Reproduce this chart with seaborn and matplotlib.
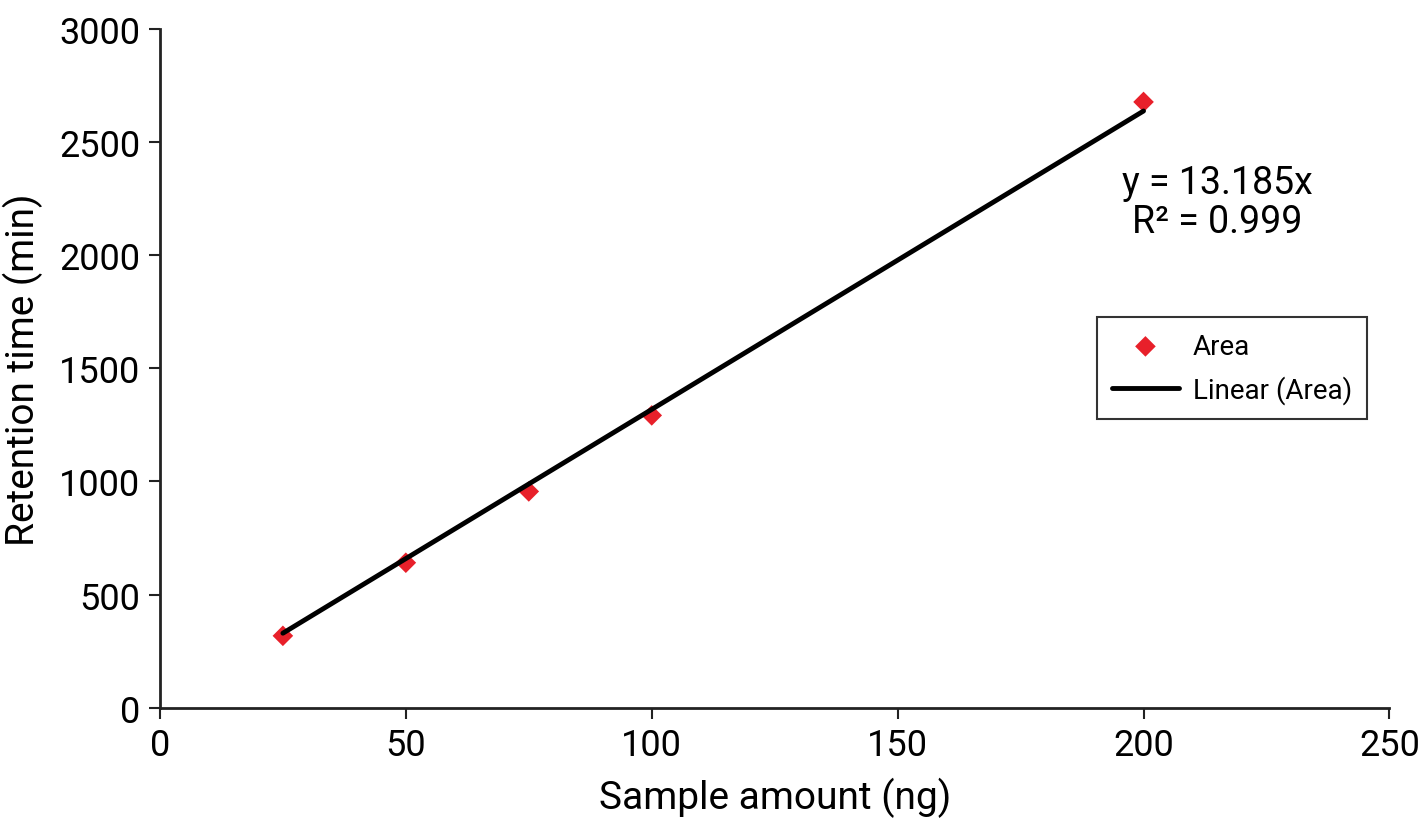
import matplotlib
matplotlib.use("Agg")
import matplotlib.pyplot as plt
import seaborn as sns
import numpy as np
import pandas as pd

# data
sample_amount = [25, 50, 75, 100, 200]
area = [318, 641, 956, 1292, 2677]
slope = 13.185
fit_x = [25, 200]

sns.set_style("white")
plt.rcParams['font.family'] = ['Liberation Sans Narrow', 'Roboto', 'DejaVu Sans']
plt.rcParams['text.color'] = 'black'
plt.rcParams['xtick.color'] = 'black'
plt.rcParams['ytick.color'] = 'black'
plt.rcParams['axes.labelcolor'] = 'black'

df = pd.DataFrame({'amount': sample_amount, 'area': area})
fit = pd.DataFrame({'amount': fit_x, 'area': [slope * v for v in fit_x]})

fig = plt.figure(figsize=(14.28, 8.29), dpi=100)
ax = fig.add_axes([0.112, 0.145, 0.861, 0.819])

sns.lineplot(data=fit, x='amount', y='area', color='black', linewidth=3.5,
             label='Linear (Area)', ax=ax, zorder=3)
sns.scatterplot(data=df, x='amount', y='area', marker='D', color='#e8202a',
                s=110, edgecolor='none', label='Area', ax=ax, zorder=2)

ax.set_xlim(0, 250)
ax.set_ylim(0, 3000)
ax.set_xticks(np.arange(0, 251, 50))
ax.set_yticks(np.arange(0, 3001, 500))
ax.tick_params(axis='both', labelsize=26, direction='out', length=8, width=1.5,
               color='#222222', pad=6, left=True, bottom=True)
sns.despine(ax=ax)
for sp in ['left', 'bottom']:
    ax.spines[sp].set_linewidth(2)
    ax.spines[sp].set_color('#222222')

ax.set_xlabel('Sample amount (ng)', fontsize=28, labelpad=10)
ax.set_ylabel('Retention time (min)', fontsize=28, labelpad=12)

ax.text(0.86, 0.745, 'y = 13.185x\nR² = 0.999', transform=ax.transAxes,
        ha='center', va='center', fontsize=27, linespacing=1.1)

handles, labels = ax.get_legend_handles_labels()
order = [labels.index('Area'), labels.index('Linear (Area)')]
leg = ax.legend([handles[i] for i in order], [labels[i] for i in order],
                loc='upper left', bbox_to_anchor=(0.762, 0.575), fontsize=20,
                frameon=True, fancybox=False, edgecolor='black',
                handlelength=2.4, handletextpad=0.5, borderpad=0.55,
                labelspacing=0.55, borderaxespad=0)
leg.get_frame().set_linewidth(1.5)

fig.savefig('out.png', dpi=100)
